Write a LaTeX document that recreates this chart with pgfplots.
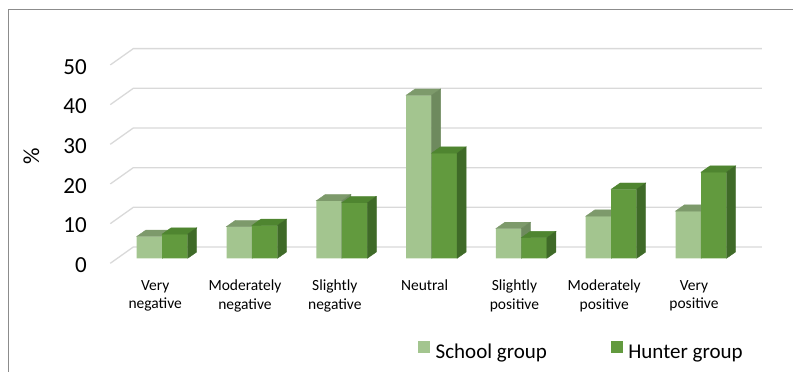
\documentclass[border=0pt]{standalone}
\usepackage{pgfplots}
\pgfplotsset{compat=1.18}
\usepackage{pgfplotstable}
\usepackage{fontspec}
\setmainfont{Carlito}
\definecolor{schoolF}{HTML}{A3C58F}
\definecolor{schoolT}{HTML}{7D9A6B}
\definecolor{schoolS}{HTML}{6E8A5E}
\definecolor{hunterF}{HTML}{629A3E}
\definecolor{hunterT}{HTML}{4F8530}
\definecolor{hunterS}{HTML}{3F6A28}
\definecolor{gridc}{HTML}{D9D9D9}
\definecolor{framec}{HTML}{8C8C8C}
\pgfdeclareplotmark{nothing}{}
\pgfplotstableread{
x school hunter
0 5.5 6.1
1 8.0 8.3
2 14.5 14.0
3 41.1 26.5
4 7.5 5.2
5 10.6 17.4
6 11.9 21.7
}\data
\begin{document}
\begin{tikzpicture}
\useasboundingbox (0pt,0pt) rectangle (793pt,372pt);
\draw[framec, line width=1.5pt] (8.5pt,-10pt) -- (8.5pt,362.5pt) -- (810pt,362.5pt);
\begin{axis}[
  at={(117.3pt,113.7pt)}, anchor=south west,
  x=89.8pt, y=3.967pt,
  xmin=-0.5, xmax=6.5, ymin=0, ymax=50,
  clip=false,
  clip marker paths=true,
  axis line style={draw=none},
  major tick length=0pt,
  xtick={0,...,6},
  xticklabels={{Very\\negative},{Moderately\\negative},{Slightly\\negative},{Neutral},{Slightly\\positive},{Moderately\\positive},{Very\\positive}},
  xticklabel style={align=center, font=\fontsize{15.5}{18.3}\selectfont, inner sep=0pt, anchor=north, xshift=-7pt, yshift=-21.7pt},
  ytick={0,10,...,50},
  /pgf/number format/assume math mode=true,
  yticklabel style={font=\fontsize{23}{27}\selectfont, inner sep=0pt, anchor=east, xshift=-30.3pt, yshift=-6.7pt},
  ylabel={\%},
  ylabel style={font=\fontsize{23}{27}\selectfont, at={([shift={(-86pt,3.3pt)}]axis description cs:0,0.5)}, anchor=center},
  legend columns=2,
  legend cell align=left,
  legend style={at={(axis description cs:0.4788,-0.466)}, anchor=west, draw=none, fill=none, inner sep=0pt, outer sep=0pt,
    font=\fontsize{21}{25}\selectfont, nodes={inner sep=0pt},
    /tikz/every odd column/.append style={column sep=6pt},
    /tikz/every even column/.append style={column sep=64pt}},
]
\pgfplotsinvokeforeach{0,10,20,30,40,50}{
  \draw[gridc, line width=1.3pt] ([shift={(-7pt,-5pt)}]axis cs:-0.5,#1) -- ([shift={(16pt,11.3pt)}]axis cs:-0.5,#1) -- ([shift={(16pt,11.3pt)}]axis cs:6.5,#1);
}
\addplot[forget plot, ybar, bar width=25.5pt, bar shift=-12.75pt, fill=schoolF, draw=none] table[x=x,y=school]{\data};
\addplot[forget plot, only marks, mark=nothing, scatter,
  visualization depends on={\thisrow{school} \as \v},
  scatter/@pre marker code/.code={
    \fill[schoolT] (-25.5pt,0pt) -- (-16.5pt,6.3pt) -- (9pt,6.3pt) -- (0pt,0pt) -- cycle;
    \fill[schoolS] (0pt,0pt) -- (9pt,6.3pt) -- (9pt,{6.3pt-\v*3.967pt}) -- (0pt,{-\v*3.967pt}) -- cycle;
  },
  scatter/@post marker code/.code={}
] table[x=x,y=school]{\data};
\addplot[forget plot, ybar, bar width=25.5pt, bar shift=12.75pt, fill=hunterF, draw=none] table[x=x,y=hunter]{\data};
\addplot[forget plot, only marks, mark=nothing, scatter,
  visualization depends on={\thisrow{hunter} \as \v},
  scatter/@pre marker code/.code={
    \fill[hunterT] (0pt,0pt) -- (9pt,6.3pt) -- (34.5pt,6.3pt) -- (25.5pt,0pt) -- cycle;
    \fill[hunterS] (25.5pt,0pt) -- (34.5pt,6.3pt) -- (34.5pt,{6.3pt-\v*3.967pt}) -- (25.5pt,{-\v*3.967pt}) -- cycle;
  },
  scatter/@post marker code/.code={}
] table[x=x,y=hunter]{\data};
\addlegendimage{legend image code/.code={\fill[schoolF] (0pt,0pt) rectangle (11pt,11pt);}}
\addlegendentry{School group}
\addlegendimage{legend image code/.code={\fill[hunterF] (0pt,0pt) rectangle (11pt,11pt);}}
\addlegendentry{Hunter group}
\end{axis}
\end{tikzpicture}
\end{document}
